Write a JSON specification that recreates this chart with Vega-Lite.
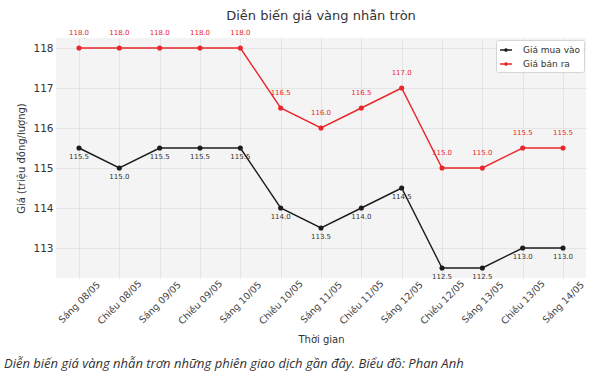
{
  "$schema": "https://vega.github.io/schema/vega-lite/v6.json",
  "autosize": "pad",
  "padding": {"left": 3, "top": 9, "right": 13, "bottom": 4},
  "background": "white",
  "config": {
    "font": "DejaVu Sans",
    "view": {"stroke": null, "fill": "#f4f4f4"},
    "concat": {"spacing": 0}
  },
  "title": {
    "text": "Diễn biến giá vàng nhẫn trơn những phiên giao dịch gần đây. Biểu đồ: Phan Anh",
    "orient": "bottom",
    "anchor": "start",
    "font": "Open Sans",
    "fontStyle": "italic",
    "fontWeight": "normal",
    "fontSize": 13,
    "color": "#333333",
    "offset": 13,
    "dx": -13
  },
  "vconcat": [
    {
      "width": 530,
      "height": 240,
      "title": {
        "text": "Diễn biến giá vàng nhẫn tròn",
        "fontSize": 13,
        "fontWeight": "normal",
        "color": "#333333",
        "anchor": "middle",
        "offset": 6
      },
      "data": {
        "values": [
          {"t": "Sáng 08/05", "series": "Giá mua vào", "v": 115.5},
          {"t": "Chiều 08/05", "series": "Giá mua vào", "v": 115.0},
          {"t": "Sáng 09/05", "series": "Giá mua vào", "v": 115.5},
          {"t": "Chiều 09/05", "series": "Giá mua vào", "v": 115.5},
          {"t": "Sáng 10/05", "series": "Giá mua vào", "v": 115.5},
          {"t": "Chiều 10/05", "series": "Giá mua vào", "v": 114.0},
          {"t": "Sáng 11/05", "series": "Giá mua vào", "v": 113.5},
          {"t": "Chiều 11/05", "series": "Giá mua vào", "v": 114.0},
          {"t": "Sáng 12/05", "series": "Giá mua vào", "v": 114.5},
          {"t": "Chiều 12/05", "series": "Giá mua vào", "v": 112.5},
          {"t": "Sáng 13/05", "series": "Giá mua vào", "v": 112.5},
          {"t": "Chiều 13/05", "series": "Giá mua vào", "v": 113.0},
          {"t": "Sáng 14/05", "series": "Giá mua vào", "v": 113.0},
          {"t": "Sáng 08/05", "series": "Giá bán ra", "v": 118.0},
          {"t": "Chiều 08/05", "series": "Giá bán ra", "v": 118.0},
          {"t": "Sáng 09/05", "series": "Giá bán ra", "v": 118.0},
          {"t": "Chiều 09/05", "series": "Giá bán ra", "v": 118.0},
          {"t": "Sáng 10/05", "series": "Giá bán ra", "v": 118.0},
          {"t": "Chiều 10/05", "series": "Giá bán ra", "v": 116.5},
          {"t": "Sáng 11/05", "series": "Giá bán ra", "v": 116.0},
          {"t": "Chiều 11/05", "series": "Giá bán ra", "v": 116.5},
          {"t": "Sáng 12/05", "series": "Giá bán ra", "v": 117.0},
          {"t": "Chiều 12/05", "series": "Giá bán ra", "v": 115.0},
          {"t": "Sáng 13/05", "series": "Giá bán ra", "v": 115.0},
          {"t": "Chiều 13/05", "series": "Giá bán ra", "v": 115.5},
          {"t": "Sáng 14/05", "series": "Giá bán ra", "v": 115.5}
        ]
      },
      "encoding": {
        "x": {
          "field": "t",
          "type": "ordinal",
          "sort": null,
          "scale": {"type": "point", "padding": 0.57},
          "axis": {
            "title": "Thời gian",
            "titleFont": "DejaVu Sans",
            "titleFontSize": 10,
            "titleFontWeight": "normal",
            "titleColor": "#333333",
            "titlePadding": 9,
            "labelAngle": -45,
            "labelAlign": "center",
            "labelBaseline": "middle",
            "labelFontSize": 9.5,
            "labelColor": "#444444",
            "labelPadding": 24,
            "labelBound": false,
            "ticks": false,
            "domain": false,
            "grid": true,
            "gridColor": "#e0e0e0",
            "gridWidth": 0.8
          }
        },
        "y": {
          "field": "v",
          "type": "quantitative",
          "scale": {"domain": [112.25, 118.25], "nice": false, "zero": false},
          "axis": {
            "title": "Giá (triệu đồng/lượng)",
            "titleFontSize": 10,
            "titleFontWeight": "normal",
            "titleColor": "#333333",
            "titlePadding": 6,
            "values": [113, 114, 115, 116, 117, 118],
            "format": "d",
            "labelFontSize": 10.5,
            "labelColor": "#333333",
            "labelPadding": 3,
            "ticks": false,
            "domain": false,
            "grid": true,
            "gridColor": "#e0e0e0",
            "gridWidth": 0.8
          }
        }
      },
      "layer": [
        {
          "mark": {"type": "line", "strokeWidth": 1.4, "point": {"filled": true, "size": 26}},
          "encoding": {
            "color": {
              "field": "series",
              "type": "nominal",
              "scale": {"domain": ["Giá mua vào", "Giá bán ra"], "range": ["#1c1c1c", "#e8262b"]},
              "legend": {
                "title": null,
                "orient": "top-right",
                "offset": 2,
                "symbolType": "M-1,0H1M-0.2,0A0.2,0.2 0 1 1 0.2,0A0.2,0.2 0 1 1 -0.2,0Z",
                "symbolSize": 144,
                "symbolStrokeWidth": 1.3,
                "labelFontSize": 9,
                "labelColor": "#333333",
                "labelOffset": 10,
                "fillColor": "white",
                "strokeColor": "#d6d6d6",
                "padding": 3,
                "cornerRadius": 2,
                "rowPadding": 2
              }
            }
          }
        },
        {
          "transform": [{"filter": "datum.series == 'Giá bán ra'"}],
          "mark": {"type": "text", "dy": -15, "fontSize": 7, "color": "#e8262b", "baseline": "middle"},
          "encoding": {"text": {"field": "v", "type": "quantitative", "format": ".1f"}}
        },
        {
          "transform": [{"filter": "datum.series == 'Giá mua vào'"}],
          "mark": {"type": "text", "dy": 9, "fontSize": 7, "color": "#333333", "baseline": "middle"},
          "encoding": {"text": {"field": "v", "type": "quantitative", "format": ".1f"}}
        }
      ]
    }
  ]
}
